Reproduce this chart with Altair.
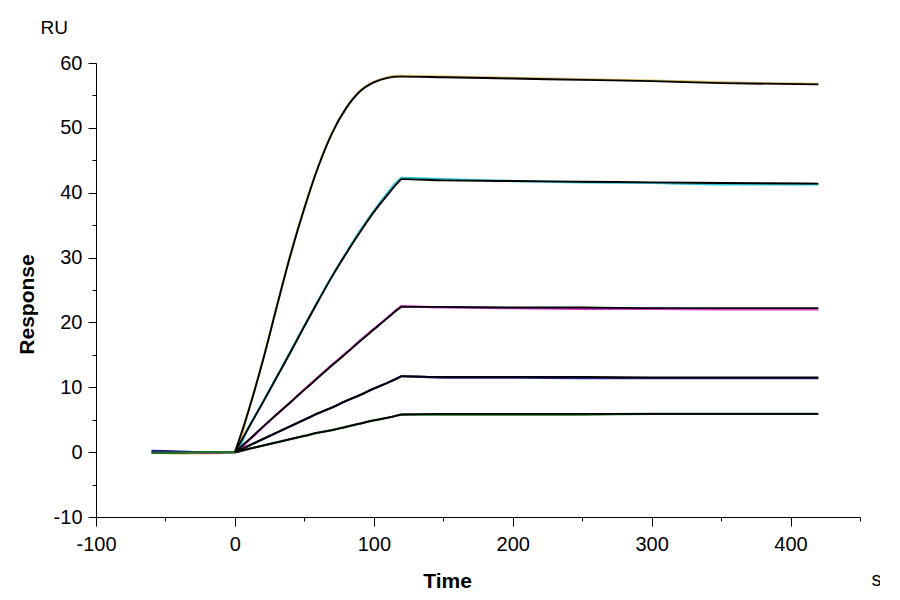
import altair as alt
import pandas as pd

FONT = "Arial, Liberation Sans"

# fitted curves (black): time in s, response in RU
FIT_TIME = [0, 10, 20, 30, 40, 50, 60, 70, 80, 90, 100, 110, 118, 120,
            150, 200, 250, 300, 350, 420]
FIT_1 = [0, 6.5, 14.0, 22.3, 30.4, 37.6, 44.0, 49.2, 53.0, 55.6, 57.0, 57.7, 57.9, 57.9,
         57.8, 57.6, 57.4, 57.2, 56.9, 56.7]
FIT_2 = [0, 3.8, 7.6, 11.5, 15.4, 19.4, 23.3, 27.1, 30.6, 33.9, 37.0, 39.7, 41.7, 42.1,
         41.9, 41.8, 41.7, 41.6, 41.5, 41.4]
FIT_3 = [0, 1.9, 3.9, 5.8, 7.7, 9.6, 11.5, 13.4, 15.2, 17.1, 18.9, 20.7, 22.1, 22.4,
         22.4, 22.3, 22.3, 22.2, 22.2, 22.2]
FIT_4 = [0, 1.0, 2.0, 3.0, 4.0, 5.0, 6.0, 6.9, 7.9, 8.8, 9.8, 10.7, 11.5, 11.7,
         11.6, 11.6, 11.6, 11.5, 11.5, 11.5]
FIT_5 = [0, 0.5, 1.0, 1.5, 2.0, 2.5, 3.0, 3.4, 3.9, 4.4, 4.9, 5.3, 5.7, 5.8,
         5.9, 5.9, 5.9, 5.9, 5.9, 5.9]

# measured curves (coloured), mostly hidden under the fits
DATA_TIME = [-60, -40, -20] + FIT_TIME
DATA_1 = [0.0, -0.2, -0.2, 0.0, 6.6, 14.1, 22.4, 30.5, 37.7, 44.1, 49.3, 53.1, 55.7, 57.1,
          57.8, 58.0, 58.0, 57.9, 57.7, 57.5, 57.3, 57.0, 56.8]
DATA_2 = [0.1, 0.0, 0.0, 0.0, 3.9, 7.7, 11.6, 15.5, 19.5, 23.4, 27.2, 30.7, 34.1, 37.2,
          40.0, 42.0, 42.3, 42.1, 41.8, 41.6, 41.5, 41.3, 41.3]
DATA_3 = [0.0, 0.0, -0.1, 0.0, 1.8, 3.8, 5.8, 7.7, 9.7, 11.6, 13.5, 15.3, 17.2, 19.0,
          20.8, 22.2, 22.5, 22.3, 22.2, 22.1, 22.1, 22.0, 22.0]
DATA_4 = [0.2, 0.1, 0.0, 0.0, 1.0, 2.0, 3.0, 4.0, 5.0, 6.0, 6.9, 7.9, 8.8, 9.8,
          10.7, 11.5, 11.7, 11.5, 11.5, 11.4, 11.4, 11.4, 11.4]
DATA_5 = [-0.1, -0.1, 0.0, 0.0, 0.5, 1.0, 1.5, 2.0, 2.5, 3.0, 3.4, 3.9, 4.4, 4.9,
          5.3, 5.7, 5.8, 5.8, 5.8, 5.8, 5.9, 5.9, 5.9]

SERIES = ["c1", "c2", "c3", "c4", "c5"]
COLORS = ["#d8b860", "#30c8d8", "#d838d0", "#202088", "#207020"]

X_MAJOR = [-100, 0, 100, 200, 300, 400]
X_MINOR = [-50, 50, 150, 250, 350, 450]
Y_MAJOR = [-10, 0, 10, 20, 30, 40, 50, 60]
Y_MINOR = [-5, 5, 15, 25, 35, 45, 55]

# plain hyphen for negatives, like the instrument software
PLAIN_LABEL = "datum.value < 0 ? '-' + abs(datum.value) : '' + datum.value"


def _long(times, curves):
    rows = []
    for name, vals in zip(SERIES, curves):
        rows += [{"series": name, "t": t, "r": v} for t, v in zip(times, vals)]
    return pd.DataFrame(rows)


data_df = _long(DATA_TIME, [DATA_1, DATA_2, DATA_3, DATA_4, DATA_5])
fit_df = _long(FIT_TIME, [FIT_1, FIT_2, FIT_3, FIT_4, FIT_5])

x_scale = alt.Scale(domain=[-100, 450], nice=False, zero=False)
y_scale = alt.Scale(domain=[-10, 60], nice=False, zero=False)

axis_common = dict(domainColor="black", tickColor="black", tickWidth=1, grid=False,
                   labelFont=FONT, labelFontSize=20, labelColor="black",
                   labelFlush=False, labelOverlap=False,
                   titleFont=FONT, titleColor="black")

measured = alt.Chart(data_df).mark_line(strokeWidth=2.2, interpolate="monotone").encode(
    x=alt.X("t:Q", scale=x_scale,
            axis=alt.Axis(values=X_MAJOR, orient="bottom", tickSize=9, labelPadding=8,
                          labelExpr=PLAIN_LABEL,
                          title="Time", titleFontSize=21, titleFontWeight="bold",
                          titleX=351, titleY=70, titleAlign="center",
                          titleBaseline="alphabetic", **axis_common)),
    y=alt.Y("r:Q", scale=y_scale,
            axis=alt.Axis(values=Y_MAJOR, orient="left", tickSize=8, labelPadding=6,
                          labelExpr=PLAIN_LABEL,
                          title="Response", titleFontSize=21, titleFontWeight="bold",
                          titleAngle=270, titleX=-63, titleY=241, titleAlign="center",
                          titleBaseline="alphabetic", **axis_common)),
    color=alt.Color("series:N", scale=alt.Scale(domain=SERIES, range=COLORS), legend=None),
)

fitted = alt.Chart(fit_df).mark_line(strokeWidth=1.9, color="black",
                                     interpolate="monotone").encode(
    x=alt.X("t:Q", scale=x_scale,
            axis=alt.Axis(values=X_MINOR, orient="bottom", tickSize=4, labels=False,
                          domain=False, title="s", titleFontSize=20,
                          titleFontWeight="normal", titleX=780, titleY=68,
                          titleAlign="center", titleBaseline="alphabetic",
                          **axis_common)),
    y=alt.Y("r:Q", scale=y_scale,
            axis=alt.Axis(values=Y_MINOR, orient="left", tickSize=4, labels=False,
                          domain=False, title="RU", titleFontSize=19,
                          titleFontWeight="normal", titleAngle=0, titleX=-56, titleY=-30,
                          titleAlign="left", titleBaseline="alphabetic", **axis_common)),
    detail="series:N",
)

chart = (alt.layer(measured, fitted)
         .resolve_axis(x="independent", y="independent")
         .properties(width=764, height=454, background="white",
                     autosize=alt.AutoSizeParams(type="none"),
                     padding={"left": 88, "top": 55, "right": 20, "bottom": 80})
         .configure_view(strokeWidth=0))

chart.save("out.html", embed_options={"renderer": "svg", "actions": False})
